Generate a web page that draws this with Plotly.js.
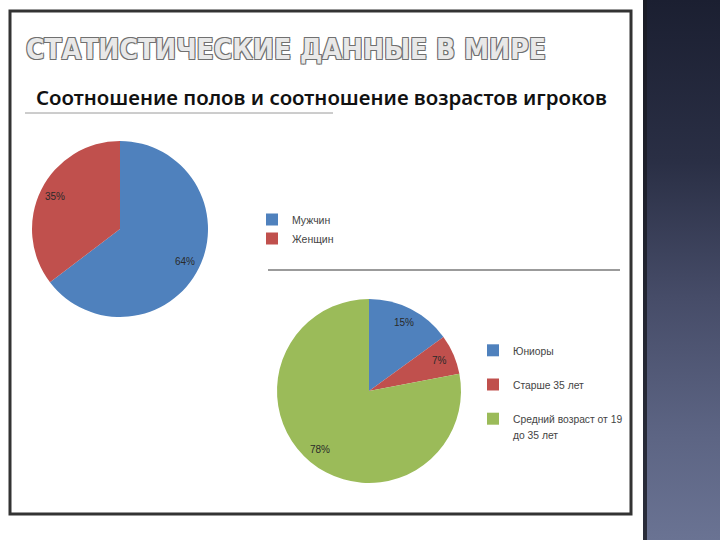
<!DOCTYPE html>
<html>
<head>
<meta charset="utf-8">
<script src="https://cdn.plot.ly/plotly-3.0.1.min.js"></script>
<style>
  html, body { margin: 0; padding: 0; background: #ffffff; }
  #wrap { position: relative; width: 720px; height: 540px; overflow: hidden; background: #ffffff; }
  #panel { position: absolute; left: 643px; top: 0; width: 77px; height: 540px;
    background: linear-gradient(to bottom, #1b1f31 0%, #2a2f45 30%, #464c68 55%, #5c6483 80%, #6a7393 100%); }
  #panel:before { content: ""; position: absolute; left: 0; top: 0; width: 4px; height: 540px; background: #1a1c24; opacity: 0.8; }
  #chart { position: absolute; left: 0; top: 0; width: 720px; height: 540px; }
</style>
</head>
<body>
<div id="wrap">
  <div id="panel"></div>
  <div id="chart"></div>
</div>
<script>
// ---- data ----
const genderLabels = ["Мужчин", "Женщин"];
const genderValues = [64, 35];
const ageLabels = ["Юниоры", "Старше 35 лет", "Средний возраст от 19<br>до 35 лет"];
const ageValues = [15, 7, 78];
const mainTitle = "СТАТИСТИЧЕСКИЕ ДАННЫЕ В МИРЕ";
const subTitle = "Соотношение полов и соотношение возрастов игроков";

const blue = "#4F81BD", red = "#C0504D", green = "#9BBB59";
const W = 720, H = 540;
const px = x => x / W;
const py = y => 1 - y / H;

// pie geometry (pixels)
const pie1 = { x0: 32, x1: 208, y0: 140, y1: 318 };
const pie2 = { x0: 277, x1: 461, y0: 298, y1: 484 };

const labelFont = { family: "Liberation Sans, Arial, sans-serif", size: 10, color: "#2a2a2a" };
const legFont = "Liberation Sans, Arial, sans-serif";

// percentage labels placed along each slice's mid angle (clockwise from 12 o'clock)
function sliceLabels(values, g, frac) {
  const cx = (g.x0 + g.x1) / 2, cy = (g.y0 + g.y1) / 2;
  const r = Math.min(g.x1 - g.x0, g.y1 - g.y0) / 2;
  const total = values.reduce((a, b) => a + b, 0);
  let cum = 0;
  return values.map(v => {
    const mid = (cum + v / 2) / total * 2 * Math.PI;
    cum += v;
    const x = cx + Math.sin(mid) * r * frac;
    const y = cy - Math.cos(mid) * r * frac;
    return { text: v + "%", xref: "paper", yref: "paper", x: px(x), y: py(y),
      xanchor: "center", yanchor: "middle", showarrow: false, font: labelFont };
  });
}

const traces = [
  {
    type: "pie",
    labels: genderLabels,
    values: genderValues,
    sort: false,
    direction: "clockwise",
    marker: { colors: [blue, red], line: { width: 0 } },
    textinfo: "none",
    hoverinfo: "label+value",
    domain: { x: [px(pie1.x0), px(pie1.x1)], y: [py(pie1.y1), py(pie1.y0)] },
    legend: "legend"
  },
  {
    type: "pie",
    labels: ageLabels.map(l => {
      const parts = l.split("<br>");
      const s = parts.map(p => "<span style='font-size:10.3px'>" + p + "</span>").join("<br>");
      return parts.length > 1 ? s : s + "<br>\u00a0";
    }),
    values: ageValues,
    sort: false,
    direction: "clockwise",
    marker: { colors: [blue, red, green], line: { width: 0 } },
    textinfo: "none",
    hoverinfo: "label+value",
    domain: { x: [px(pie2.x0), px(pie2.x1)], y: [py(pie2.y1), py(pie2.y0)] },
    legend: "legend2"
  }
];

const outline = "#707070";
const layout = {
  width: W, height: H,
  margin: { l: 0, r: 0, t: 0, b: 0 },
  paper_bgcolor: "rgba(0,0,0,0)",
  plot_bgcolor: "rgba(0,0,0,0)",
  showlegend: true,
  legend: {
    x: px(252), y: py(205), xanchor: "left", yanchor: "top",
    bgcolor: "rgba(0,0,0,0)",
    font: { family: legFont, size: 10.5, color: "#444444" }
  },
  legend2: {
    x: px(473), y: py(336), xanchor: "left", yanchor: "top",
    bgcolor: "rgba(0,0,0,0)",
    valign: "top",
    font: { family: legFont, size: 12, color: "#444444" }
  },
  shapes: [
    { type: "rect", xref: "paper", yref: "paper", x0: px(10), x1: px(631), y0: py(514), y1: py(11),
      line: { color: "#333333", width: 3 }, fillcolor: "rgba(0,0,0,0)" },
    { type: "line", xref: "paper", yref: "paper", x0: px(25), x1: px(333), y0: py(113), y1: py(113),
      line: { color: "#9a9a9a", width: 1 } },
    { type: "line", xref: "paper", yref: "paper", x0: px(268), x1: px(620), y0: py(270), y1: py(270),
      line: { color: "#7a7a7a", width: 1.5 } }
  ],
  annotations: [
    { text: mainTitle, xref: "paper", yref: "paper", x: px(24), y: py(50), xanchor: "left", yanchor: "middle",
      showarrow: false,
      font: { family: "DejaVu Sans Condensed, DejaVu Sans, sans-serif", size: 28, weight: 700, color: "#e8e8e8",
        shadow: "1px 1px 0 " + outline + ", -1px -1px 0 " + outline + ", 1px -1px 0 " + outline + ", -1px 1px 0 " + outline } },
    { text: subTitle, xref: "paper", yref: "paper", x: px(34), y: py(97), xanchor: "left", yanchor: "middle",
      showarrow: false,
      font: { family: "Noto Sans, sans-serif", size: 20.4, weight: 600, color: "#111111" } }
  ].concat(sliceLabels(genderValues, pie1, 0.82), sliceLabels(ageValues, pie2, 0.83))
};

Plotly.newPlot("chart", traces, layout, { displayModeBar: false, staticPlot: true });
</script>
</body>
</html>
